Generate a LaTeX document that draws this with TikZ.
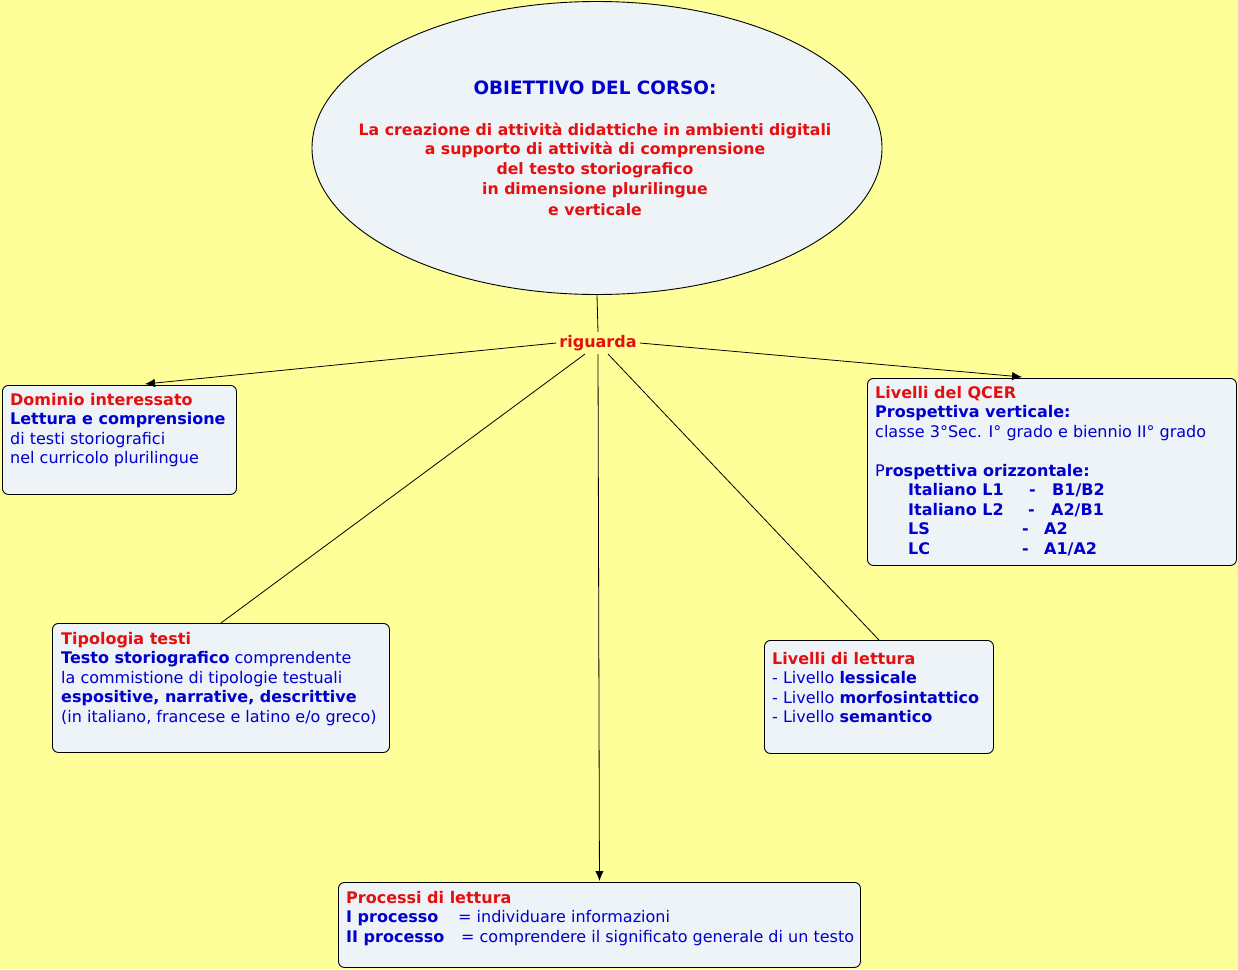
\documentclass[tikz,border=0pt]{standalone}
\usepackage{fontspec}
\setmainfont{DejaVu Sans}
\usetikzlibrary{arrows.meta,calc,shapes.geometric}
\definecolor{bgyellow}{RGB}{255,255,153}
\definecolor{boxfill}{RGB}{237,243,247}
\definecolor{myred}{RGB}{228,16,16}
\definecolor{myblue}{RGB}{0,0,204}
\tikzset{
  box/.style={draw=black, line width=0.9pt, fill=boxfill, rounded corners=6pt, inner sep=0pt, anchor=north west},
  txt/.style={anchor=north west, inner sep=0pt, align=left, text=myblue, font=\fontsize{16}{19.5}\selectfont},
  conn/.style={draw=black, line width=0.8pt},
  arr/.style={conn, -{Latex[length=10pt,width=8.5pt]}},
}
\newcommand{\rd}[1]{\textcolor{myred}{\bfseries #1}}
\begin{document}
\begin{tikzpicture}[x=1pt,y=-1pt]
\fill[bgyellow] (0,0) rectangle (1238,969);
\useasboundingbox (0,0) rectangle (1238,969);

% ellipse
\node[draw=black, line width=0.9pt, fill=boxfill, ellipse, minimum width=570pt, minimum height=293pt, inner sep=0pt] (ell) at (597,148) {};
\node[anchor=north, inner sep=0pt, align=center, text=myred, font=\bfseries\fontsize{15.7}{19.8}\selectfont] (ellT) at (595,80.5)
  {\textcolor{myblue}{\fontsize{18.4}{20}\selectfont OBIETTIVO DEL CORSO:}\\[21pt]
   La creazione di attività didattiche in ambienti digitali\\
   a supporto di attività di comprensione\\
   del testo storiografico\\
   in dimensione plurilingue\\[1pt]
   e verticale};

% riguarda
\node[inner sep=3pt, text=myred, font=\bfseries\fontsize{16}{18}\selectfont] (rig) at (598,343) {riguarda};

% boxes
\node[box, minimum width=234pt, minimum height=109pt] (dom) at (2,385) {};
\node[txt] (domT) at (10,392.8)
  {\rd{Dominio interessato}\\
   \textbf{Lettura e comprensione}\\
   di testi storiografici\\
   nel curricolo plurilingue};

\node[box, minimum width=369pt, minimum height=187pt] (qcer) at (867,378) {};
\node[txt] (qcerT) at (875,385.8)
  {\rd{Livelli del QCER}\\
   \textbf{Prospettiva verticale:}\\
   classe 3°Sec. I° grado e biennio II° grado\\
   \mbox{}\\
   P\textbf{rospettiva orizzontale:}\\
   \bfseries\hspace*{33pt}\makebox[121pt][l]{Italiano L1}\makebox[23pt][l]{-}B1/B2\\
   \bfseries\hspace*{33pt}\makebox[120pt][l]{Italiano L2}\makebox[23pt][l]{-}A2/B1\\
   \bfseries\hspace*{33pt}\makebox[114pt][l]{LS}\makebox[22pt][l]{-}A2\\
   \bfseries\hspace*{33pt}\makebox[114pt][l]{LC}\makebox[22pt][l]{-}A1/A2};

\node[box, minimum width=337pt, minimum height=129pt] (tip) at (52,623) {};
\node[txt] (tipT) at (61,631.8)
  {\rd{Tipologia testi}\\
   \textbf{Testo storiografico} comprendente\\
   la commistione di tipologie testuali\\
   \textbf{espositive, narrative, descrittive}\\
   (in italiano, francese e latino e/o greco)};

\node[box, minimum width=229pt, minimum height=113pt] (ll) at (764,640) {};
\node[txt] (llT) at (772,651.8)
  {\rd{Livelli di lettura}\\
   - Livello \textbf{lessicale}\\
   - Livello \textbf{morfosintattico}\\
   - Livello \textbf{semantico}};

\node[box, minimum width=522pt, minimum height=85pt] (proc) at (338,882) {};
\node[txt] (procT) at (346,890.8)
  {\rd{Processi di lettura}\\
   \makebox[112pt][l]{\textbf{I processo}}= individuare informazioni\\
   \makebox[115pt][l]{\textbf{II processo}}= comprendere il significato generale di un testo};

% connectors
\draw[conn] (ell.south) -- (rig.north);
\draw[arr] (rig.west) -- ($(dom.north west)+(143,-1)$);
\draw[arr] (rig.east) -- ($(qcer.north west)+(155,-1)$);
\draw[conn] ($(rig.south)+(-13,0)$) -- (tip.north);
\draw[arr] (rig.south) -- ($(proc.north)+(0,-1)$);
\draw[conn] ($(rig.south)+(10,0)$) -- (ll.north);
\end{tikzpicture}
\end{document}
